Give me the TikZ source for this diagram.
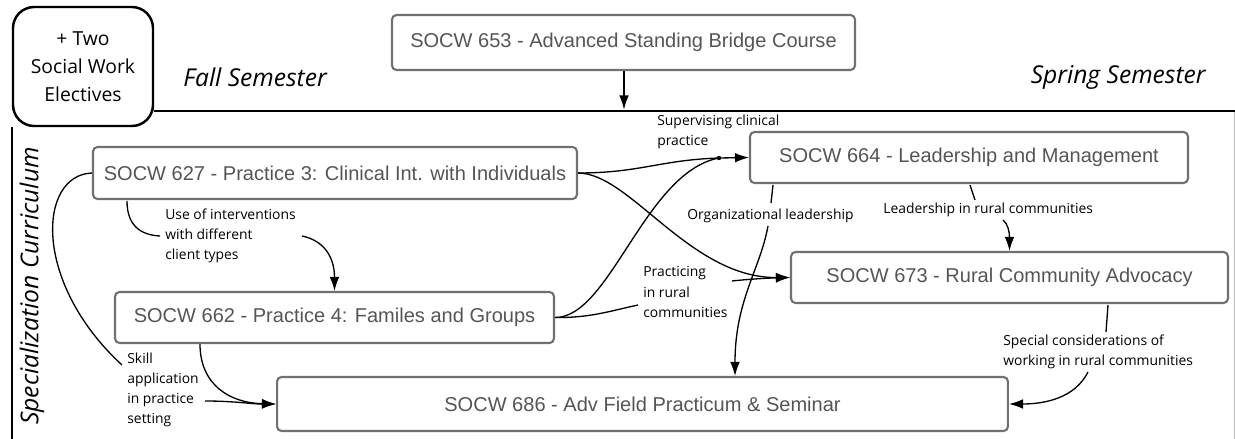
\documentclass[tikz,border=0pt]{standalone}
\usepackage{fontspec}
\setmainfont{Open Sans}
\newfontfamily\arialf{Liberation Sans}
\usetikzlibrary{arrows.meta}
\definecolor{boxedge}{HTML}{707070}
\definecolor{boxtext}{HTML}{555555}
\begin{document}
\begin{tikzpicture}[x=0.02cm,y=-0.02cm,
  box/.style={draw=boxedge, line width=1.2pt, rounded corners=2.5pt, fill=white, text=boxtext,
    font=\arialf\fontsize{11.4}{13}\selectfont, inner sep=0pt},
  lbl/.style={font=\fontsize{7.9}{11.4}\selectfont, align=left, anchor=west, inner sep=0pt},
  conn/.style={line width=0.75pt},
  arr/.style={conn, -{Latex[length=8pt,width=5.5pt]}},
  sem/.style={font=\itshape\fontsize{14}{16}\selectfont, inner sep=0pt},
  frame/.style={line width=1.4pt}]
\useasboundingbox (0,0) rectangle (1235,439);

% header
\node[draw, line width=1.4pt, rounded corners=12pt, minimum width=2.8cm, minimum height=2.38cm,
  align=center, inner sep=0pt, font=\fontsize{11}{16}\selectfont] (elec) at (83,66.5) {+ Two\\Social Work\\Electives};
\draw[frame] (elec.east |- 0,111) -- (1235,111);
\draw[frame] (elec.south west) -- (elec.south west |- 0,439);
\draw[black!25, line width=0.5pt] (1234,112) -- (1234,439);

\node[sem, anchor=west] (fall) at (183,77) {Fall Semester};
\node[sem, anchor=east] (spring) at (1206,77) {Spring Semester};
\node[sem, rotate=90] (spec) at (32,286) {Specialization Curriculum};

% boxes
\node[box, minimum width=9.26cm, minimum height=1.10cm] (b653) at (623.5,42.5) {SOCW 653 - Advanced Standing Bridge Course};
\node[box, minimum width=9.68cm, minimum height=1.04cm] (b627) at (335,173) {SOCW 627 - Practice 3: Clinical Int. with Individuals};
\node[box, minimum width=8.78cm, minimum height=1.02cm] (b662) at (334.5,317.5) {SOCW 662 - Practice 4: Familes and Groups};
\node[box, minimum width=8.76cm, minimum height=1.02cm] (b664) at (969,157.5) {SOCW 664 - Leadership and Management};
\node[box, minimum width=8.74cm, minimum height=1.02cm] (b673) at (1009.5,277.5) {SOCW 673 - Rural Community Advocacy};
\node[box, minimum width=14.62cm, minimum height=1.08cm] (b686) at (642.5,404) {SOCW 686 - Adv Field Practicum \& Seminar};

% labels
\node[lbl] (lsup) at (657,132) {Supervising clinical\\practice};
\node[lbl] (lorg) at (687,216) {Organizational leadership};
\node[lbl] (llead) at (883,210) {Leadership in rural communities};
\node[lbl] (lspec) at (1003,352) {Special considerations of\\working in rural communities};
\node[lbl] (luse) at (165,236) {Use of interventions\\with different\\client types};
\node[lbl] (lprac) at (643,292) {Practicing\\in rural\\communities};
\node[lbl] (lskill) at (127,390) {Skill\\application\\in practice\\setting};

% coordinates
\coordinate (t653) at (624,109.5);
\coordinate (j1) at (719,158);
\coordinate (p627s) at (127,201);
\coordinate (u1) at (160,236);
\coordinate (u2) at (302,236);
\coordinate (s1) at (122,365);
\coordinate (s2) at (205,401);
\coordinate (p662s) at (200,344);
\coordinate (pr1) at (638,305);
\coordinate (pr2) at (732,281);
\coordinate (o0) at (773,185);
\coordinate (o1) at (771,203);
\coordinate (o2) at (768,226);
\coordinate (o3) at (735,376);
\coordinate (l0) at (970,185);
\coordinate (l1) at (975,200);
\coordinate (l2) at (1003,220);
\coordinate (sp0) at (1108,305);
\coordinate (sp1) at (1106,332);
\coordinate (sp2) at (1088,372);

% connectors
\draw[arr] (b653.south -| t653) -- (t653);

\draw[conn] (b627.east) .. controls (640,173) and (660,160) .. (j1);
\draw[conn] (b662.east) .. controls (610,318) and (645,172) .. (j1);
\fill (j1) circle (2.2);
\draw[arr] (j1) -- (b664.west);

\draw[arr] (b627.east) .. controls (630,173) and (690,278) .. (b673.west);
\draw[conn] (b662.east) .. controls (590,318) and (610,311) .. (pr1);
\draw[arr] (pr2) .. controls (750,279) and (770,278) .. (b673.west);

\draw[conn] (o0) -- (o1);
\draw[arr] (o2) .. controls (760,270) and (735,300) .. (o3);

\draw[conn] (l0) .. controls (972,193) .. (l1);
\draw[arr] (l2) .. controls (1008,224) and (1009.5,232) .. (b673.north);

\draw[conn] (sp0) -- (sp1);
\draw[arr] (sp2) .. controls (1075,398) and (1045,404) .. (b686.east);

\draw[conn] (p627s) .. controls (127,225) and (140,235) .. (u1);
\draw[arr] (u2) .. controls (322,240) and (334.5,255) .. (b662.north);

\draw[conn] (b627.west) .. controls (38,175) and (32,282) .. (s1);
\draw[arr] (s2) .. controls (235,401) and (250,404) .. (b686.west);
\draw[arr] (p662s) .. controls (200,385) and (230,403) .. (b686.west);
\end{tikzpicture}
\end{document}
